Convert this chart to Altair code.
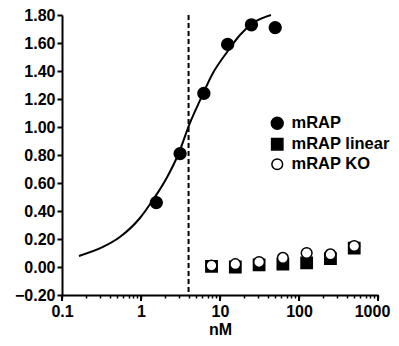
import altair as alt
import pandas as pd

# mRAP data points (nM, response)
conc_mrap = [1.5625, 3.125, 6.25, 12.5, 25, 50]
resp_mrap = [0.46, 0.81, 1.24, 1.59, 1.73, 1.71]

# control series
conc_ctrl = [7.8125, 15.625, 31.25, 62.5, 125, 250, 500]
resp_linear = [0.005, 0.0, 0.015, 0.02, 0.03, 0.06, 0.135]
resp_ko = [0.01, 0.02, 0.035, 0.065, 0.10, 0.09, 0.15]

# fitted curve
fit_x = [0.164, 0.33, 0.54, 0.97, 1.42, 2.13, 2.94, 4.17, 5.58, 8.15, 12.3, 17.9, 26.2, 44.2]
fit_y = [0.079, 0.143, 0.214, 0.35, 0.48, 0.64, 0.80, 1.03, 1.19, 1.386, 1.536, 1.657, 1.743, 1.80]

ec50 = [4.0]

major_ticks = [0.1, 1, 10, 100, 1000]
x_ticks = [0.1, 0.2, 0.3, 0.4, 0.5, 0.6, 0.7, 0.8, 0.9,
           1, 2, 3, 4, 5, 6, 7, 8, 9,
           10, 20, 30, 40, 50, 60, 70, 80, 90,
           100, 200, 300, 400, 500, 600, 700, 800, 900, 1000]
y_ticks = [-0.2, 0.0, 0.2, 0.4, 0.6, 0.8, 1.0, 1.2, 1.4, 1.6, 1.8]

series = ["mRAP", "mRAP linear", "mRAP KO"]

pts = pd.concat([
    pd.DataFrame({"x": conc_mrap, "y": resp_mrap, "s": "mRAP"}),
    pd.DataFrame({"x": conc_ctrl, "y": resp_linear, "s": "mRAP linear"}),
    pd.DataFrame({"x": conc_ctrl, "y": resp_ko, "s": "mRAP KO"}),
], ignore_index=True)
pts["order"] = pts["s"].map({"mRAP": 0, "mRAP linear": 1, "mRAP KO": 2})

fit = pd.DataFrame({"x": fit_x, "y": fit_y})
ec = pd.DataFrame({"x": ec50})
majors = pd.DataFrame({"x": major_ticks})

FONT = "Liberation Sans"
FS = 16

is_major = "abs(log(datum.value)/LN10 - round(log(datum.value)/LN10)) < 0.001"

xscale = alt.Scale(type="log", domain=[0.1, 1000])
yscale = alt.Scale(domain=[-0.2, 1.8], nice=False, zero=False)

xaxis = alt.Axis(values=x_ticks, title="nM", orient="bottom",
                 labelExpr=f"({is_major}) ? format(datum.value, '~g') : ''",
                 labelOverlap=False, labelFlush=False,
                 tickSize=3,
                 labelOffset={"condition": {"test": "datum.value >= 999", "value": -6}, "value": 0},
                 labelPadding=5, titlePadding=2)
yaxis = alt.Axis(values=y_ticks, title=None, format=".2f", tickSize=5, labelPadding=2,
                 labelOverlap=False)

curve = alt.Chart(fit).mark_line(color="black", strokeWidth=2, interpolate="monotone").encode(
    x=alt.X("x:Q", scale=xscale, axis=xaxis),
    y=alt.Y("y:Q", scale=yscale, axis=yaxis),
)

rule = alt.Chart(ec).mark_rule(color="black", strokeWidth=2, strokeDash=[5, 3]).encode(
    x=alt.X("x:Q", scale=xscale, axis=xaxis),
    y=alt.value(0),
    y2=alt.value(280),
)

# longer ticks at the decades, below the x axis line
major_rule = alt.Chart(majors).mark_rule(color="black", strokeWidth=2).encode(
    x=alt.X("x:Q", scale=xscale, axis=xaxis),
    y=alt.value(280),
    y2=alt.value(286),
)

points = alt.Chart(pts).mark_point(filled=False, strokeWidth=1.5, opacity=1).encode(
    x=alt.X("x:Q", scale=xscale, axis=xaxis),
    y=alt.Y("y:Q", scale=yscale, axis=yaxis),
    shape=alt.Shape("s:N", scale=alt.Scale(domain=series, range=["circle", "square", "circle"]),
                    legend=alt.Legend(title=None)),
    fill=alt.Fill("s:N", scale=alt.Scale(domain=series, range=["black", "black", "white"]),
                  legend=alt.Legend(title=None)),
    stroke=alt.Stroke("s:N", scale=alt.Scale(domain=series, range=["black", "black", "black"]),
                      legend=alt.Legend(title=None)),
    size=alt.Size("s:N", scale=alt.Scale(domain=series, range=[140, 115, 55]),
                  legend=alt.Legend(title=None)),
    order=alt.Order("order:Q"),
)

chart = alt.layer(curve, rule, major_rule, points).properties(
    width=316, height=280,
    autosize=alt.AutoSizeParams(type="none"),
    padding={"left": 54, "top": 7, "right": 13, "bottom": 43},
).configure_view(stroke=None).configure_axis(
    grid=False,
    domainColor="black", domainWidth=2,
    tickColor="black", tickWidth=1.5,
    labelFont=FONT, labelFontSize=FS, labelFontWeight="bold", labelColor="black",
    titleFont=FONT, titleFontSize=FS, titleFontWeight="bold", titleColor="black",
).configure_axisY(tickWidth=2).configure_legend(
    orient="none", legendX=207, legendY=100,
    labelFont=FONT, labelFontSize=16.5, labelFontWeight="bold", labelColor="black",
    rowPadding=2, labelOffset=6, symbolStrokeWidth=1.5,
)

chart.save("out.html", embed_options={"renderer": "svg", "actions": False})
